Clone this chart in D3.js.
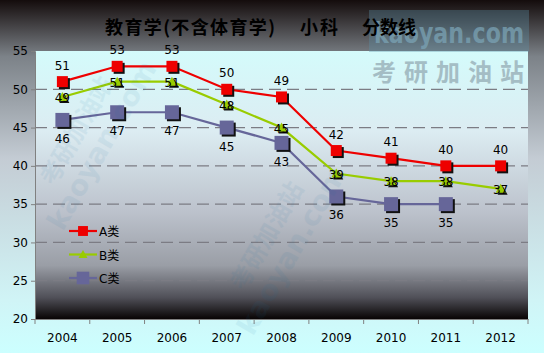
<!DOCTYPE html>
<html>
<head>
<meta charset="utf-8">
<script src="https://cdn.jsdelivr.net/npm/d3@7"></script>
<style>
  body { margin: 0; padding: 0; overflow: hidden; }
  svg { display: block; }
</style>
</head>
<body>
<div id="chart"></div>
<script>
// --- data ---
const years = ["2004", "2005", "2006", "2007", "2008", "2009", "2010", "2011", "2012"];
const seriesA = [51, 53, 53, 50, 49, 42, 41, 40, 40];
const seriesB = [49, 51, 51, 48, 45, 39, 38, 38, 37];
const seriesC = [46, 47, 47, 45, 43, 36, 35, 35, null];
const yTicks = [20, 25, 30, 35, 40, 45, 50, 55];
const seriesNames = ["A类", "B类", "C类"];
const titleParts = ["教育学(不含体育学)", "小科", "分数线"];

const W = 544, H = 353;
const margin = { top: 51, right: 16, bottom: 34, left: 35 };
const width = W - margin.left - margin.right;
const height = H - margin.top - margin.bottom;

const svg = d3.select("#chart").append("svg")
    .attr("width", W)
    .attr("height", H);

const defs = svg.append("defs");

// outer background gradient (dark top -> light cyan bottom)
const bg = defs.append("linearGradient").attr("id", "bg")
    .attr("x1", 0).attr("y1", 0).attr("x2", 0).attr("y2", 1);
[[0, "#140c0c"], [0.16, "#7c8288"], [0.45, "#c4ccd4"], [0.85, "#d0f4f6"], [1, "#ccffff"]]
    .forEach(s => bg.append("stop").attr("offset", s[0]).attr("stop-color", s[1]));

// plot area gradient (light cyan top -> black bottom)
const pg = defs.append("linearGradient").attr("id", "pg")
    .attr("x1", 0).attr("y1", 0).attr("x2", 0).attr("y2", 1);
[[0, "#d4fbfb"], [0.3, "#dcecf2"], [0.6, "#bcc2cc"], [0.8, "#9a9ea6"], [0.92, "#505058"], [1, "#080404"]]
    .forEach(s => pg.append("stop").attr("offset", s[0]).attr("stop-color", s[1]));

svg.append("rect").attr("width", W).attr("height", H).attr("fill", "url(#bg)");

const g = svg.append("g").attr("transform", `translate(${margin.left},${margin.top})`);

g.append("rect").attr("width", width).attr("height", height).attr("fill", "url(#pg)");

// --- scales ---
const x = d3.scaleBand().domain(years).range([0, width]);
const y = d3.scaleLinear().domain([20, 55]).range([height, 0]);
const cx = d => x(d) + x.bandwidth() / 2;

// --- watermarks (faint) ---
const wm = svg.append("g").attr("pointer-events", "none");
wm.append("rect").attr("x", 369).attr("y", 10).attr("width", 160).attr("height", 42)
    .attr("fill", "#5c8ea6").attr("opacity", 0.35);
wm.append("text").attr("x", 374).attr("y", 43)
    .attr("textLength", 150).attr("lengthAdjust", "spacingAndGlyphs")
    .attr("font-family", "DejaVu Sans, sans-serif").attr("font-weight", "bold")
    .attr("font-size", 28).attr("fill", "#7aa2b4").attr("opacity", 0.75).text("kaoyan.com");
wm.append("text").attr("x", 372).attr("y", 81)
    .attr("textLength", 152).attr("lengthAdjust", "spacing")
    .attr("font-family", "Noto Sans CJK SC, sans-serif").attr("font-weight", "bold")
    .attr("font-size", 24).attr("fill", "#9cb4bc").attr("opacity", 0.85).text("考研加油站");
[[110, 150], [300, 255]].forEach(p => {
    const w = wm.append("g").attr("transform", `translate(${p[0]},${p[1]}) rotate(-60)`).attr("opacity", 0.07);
    w.append("text").attr("text-anchor", "middle").attr("font-family", "DejaVu Sans, sans-serif")
        .attr("font-weight", "bold").attr("font-size", 28).attr("fill", "#1a6fa0").text("kaoyan.com");
    w.append("text").attr("y", -30).attr("text-anchor", "middle").attr("font-family", "Noto Sans CJK SC, sans-serif")
        .attr("font-weight", "bold").attr("font-size", 24).attr("fill", "#1a6fa0").text("考研加油站");
});

// --- gridlines ---
g.append("g").selectAll("line")
    .data(yTicks.filter(t => t > 20 && t < 55))
    .join("line")
    .attr("x1", 0).attr("x2", width)
    .attr("y1", d => y(d)).attr("y2", d => y(d))
    .attr("stroke", "#7c7c84").attr("stroke-width", 1.2)
    .attr("stroke-dasharray", "12,6");

// --- axes ---
const yAxis = g.append("g").call(d3.axisLeft(y).tickValues(yTicks).tickSize(4).tickPadding(3));
const xAxis = g.append("g").attr("transform", `translate(0,${height})`)
    .call(d3.axisBottom(x).tickSize(0).tickPadding(14));
xAxis.selectAll(".tick").append("line")
    .attr("x1", -x.bandwidth() / 2).attr("x2", -x.bandwidth() / 2)
    .attr("y1", 0).attr("y2", 5).attr("stroke", "#808080");
xAxis.append("line").attr("x1", width).attr("x2", width).attr("y1", 0).attr("y2", 5).attr("stroke", "#808080");
[yAxis, xAxis].forEach(a => {
    a.select(".domain").attr("stroke", "#808080");
    a.selectAll(".tick line").attr("stroke", "#808080");
    a.selectAll("text").attr("font-family", "DejaVu Sans, sans-serif")
        .attr("font-size", 12).attr("fill", "#000");
});

// --- series ---
const series = [
    { name: seriesNames[0], values: seriesA, color: "#ee0000", shape: "square", size: 11, label: "above" },
    { name: seriesNames[1], values: seriesB, color: "#99cc00", shape: "triangle", size: 10, label: "center" },
    { name: seriesNames[2], values: seriesC, color: "#666699", shape: "square", size: 14, label: "below" }
];

function markerPath(s, scale) {
    const h = s.size * scale / 2;
    return s.shape === "square"
        ? `M${-h},${-h}H${h}V${h}H${-h}Z`
        : `M0,${-h}L${h},${h * 0.8}H${-h}Z`;
}

const line = d3.line()
    .defined(d => d.v != null)
    .x(d => cx(d.year))
    .y(d => y(d.v));

series.forEach(s => {
    const pts = years.map((yr, i) => ({ year: yr, v: s.values[i] }));
    g.append("path").datum(pts)
        .attr("fill", "none").attr("stroke", s.color).attr("stroke-width", 2.2)
        .attr("d", line);
});

series.forEach(s => {
    const mg = g.append("g");
    years.forEach((yr, i) => {
        const v = s.values[i];
        if (v == null) return;
        mg.append("path").attr("d", markerPath(s, 1))
            .attr("transform", `translate(${cx(yr) + 2},${y(v) + 2})`).attr("fill", "#111");
        mg.append("path").attr("d", markerPath(s, 1))
            .attr("transform", `translate(${cx(yr)},${y(v)})`).attr("fill", s.color);
    });
});

series.forEach(s => {
    g.append("g").selectAll("text")
        .data(years.map((yr, i) => ({ year: yr, v: s.values[i] })).filter(d => d.v != null))
        .join("text")
        .attr("x", d => cx(d.year))
        .attr("y", d => y(d.v) + (s.label === "above" ? -12 : s.label === "below" ? 23 : 5))
        .attr("text-anchor", "middle")
        .attr("font-family", "DejaVu Sans, sans-serif")
        .attr("font-size", 12)
        .attr("fill", "#000")
        .text(d => d.v);
});

// --- legend ---
const legend = svg.append("g").attr("transform", "translate(69,231)");
series.forEach((s, i) => {
    const row = legend.append("g").attr("transform", `translate(0,${i * 23.5})`);
    row.append("line").attr("x1", 0).attr("x2", 28).attr("stroke", s.color).attr("stroke-width", 2.2);
    row.append("path").attr("d", markerPath(s, 0.9)).attr("transform", "translate(14,0)").attr("fill", s.color);
    row.append("text").attr("x", 30).attr("y", 5)
        .attr("font-family", "DejaVu Sans, Noto Sans CJK SC, sans-serif")
        .attr("font-size", 12).attr("fill", "#000").text(s.name);
});

// --- title ---
const titleX = [105, 300, 362];
const titleLen = [170, 38, 54];
svg.append("g").selectAll("text")
    .data(titleParts)
    .join("text")
    .attr("x", (d, i) => titleX[i]).attr("y", 34)
    .attr("textLength", (d, i) => titleLen[i])
    .attr("lengthAdjust", "spacing")
    .attr("font-family", "Noto Sans CJK SC, sans-serif")
    .attr("font-weight", "bold")
    .attr("font-size", 18)
    .attr("fill", "#000")
    .text(d => d);
</script>
</body>
</html>
